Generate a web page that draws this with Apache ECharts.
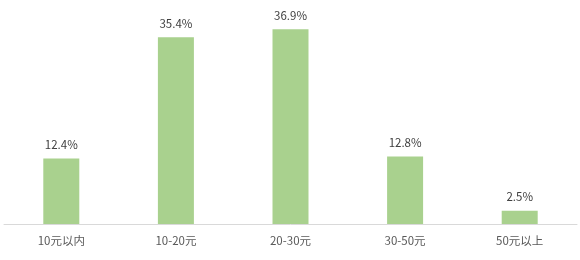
<!DOCTYPE html>
<html><head><meta charset="utf-8">
<script src="https://cdn.jsdelivr.net/npm/echarts@6/dist/echarts.min.js"></script>
<style>html,body{margin:0;padding:0;background:#fff;}#c{width:580px;height:260px;}</style>
</head><body><div id="c"></div>
<script>
const categories = ['10元以内', '10-20元', '20-30元', '30-50元', '50元以上'];
const values = [12.4, 35.4, 36.9, 12.8, 2.5];
const chart = echarts.init(document.getElementById('c'));
chart.setOption({
  animation: false,
  textStyle: { fontFamily: '"Noto Sans CJK SC", "Microsoft YaHei", sans-serif' },
  grid: { left: 4, right: 3, top: 13, bottom: 36, containLabel: false },
  xAxis: {
    type: 'category', data: categories,
    axisLine: { lineStyle: { color: '#d9d9d9', width: 1 } },
    axisTick: { show: false },
    axisLabel: { color: '#595959', fontSize: 11.5, margin: 11 }
  },
  yAxis: { type: 'value', min: 0, max: 40, show: false, splitLine: { show: false } },
  series: [{
    type: 'bar', data: values, barWidth: 36,
    itemStyle: { color: '#a9d18e' },
    label: { show: true, position: 'top', distance: 8, color: '#404040', fontSize: 11.5,
      formatter: p => p.value.toFixed(1) + '%' }
  }]
});
</script></body></html>
